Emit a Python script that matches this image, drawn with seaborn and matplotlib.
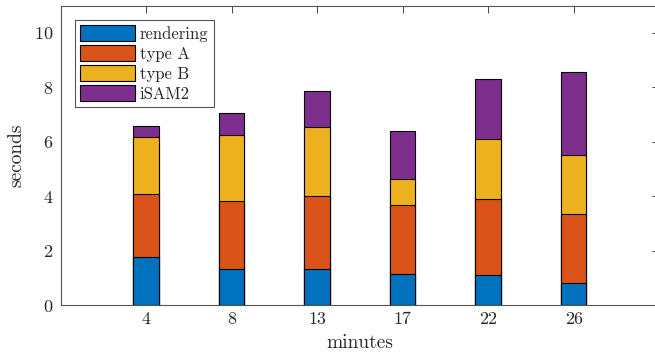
import numpy as np
import pandas as pd
import matplotlib
matplotlib.use('Agg')
import matplotlib.pyplot as plt
from matplotlib.patches import Patch
import seaborn as sns

# data
minutes = ['4', '8', '13', '17', '22', '26']
rendering = [1.75, 1.31, 1.32, 1.13, 1.10, 0.82]
type_a = [2.34, 2.50, 2.67, 2.53, 2.81, 2.51]
type_b = [2.08, 2.44, 2.57, 0.97, 2.21, 2.18]
isam2 = [0.41, 0.79, 1.31, 1.75, 2.19, 3.06]

series_names = ['rendering', 'type A', 'type B', 'iSAM2']
colors = ['#0072BD', '#D95319', '#EDB120', '#7E2F8E']

sns.set_theme(style='white')
plt.rcParams['font.family'] = ['cmr10', 'DejaVu Serif']
plt.rcParams['axes.formatter.use_mathtext'] = True
plt.rcParams['mathtext.fontset'] = 'cm'

df = pd.DataFrame({'minutes': minutes, 'rendering': rendering,
                   'type A': type_a, 'type B': type_b, 'iSAM2': isam2})
cum = df[series_names].cumsum(axis=1)

fig = plt.figure(figsize=(6.55, 3.55), dpi=100)
ax = fig.add_axes([0.0924, 0.1408, 0.914, 0.843])

# draw cumulative totals from top layer down so each segment shows
for name, color in reversed(list(zip(series_names, colors))):
    sns.barplot(x=df['minutes'], y=cum[name], order=minutes, color=color,
                width=0.3, edgecolor='black', linewidth=0.8, saturation=1,
                ax=ax)

ax.set_xlim(-1, 6)
ax.set_ylim(0, 11)
ax.set_yticks([0, 2, 4, 6, 8, 10])
ax.set_xlabel('minutes', fontsize=14, labelpad=5)
ax.set_ylabel('seconds', fontsize=14, labelpad=6)
ax.tick_params(direction='in', length=5, width=0.6, color='#262626',
               labelsize=13, top=True, right=True, pad=5)
for sp in ax.spines.values():
    sp.set_color('#555555')
    sp.set_linewidth(0.8)

handles = [Patch(facecolor=c, edgecolor='black', linewidth=0.8) for c in colors]
leg = ax.legend(handles, series_names, loc='upper left', fontsize=12,
                bbox_to_anchor=(0.024, 0.952), borderaxespad=0,
                handlelength=3.3, handleheight=1.05,
                handletextpad=0.3, labelspacing=0.22, borderpad=0.3,
                frameon=True, fancybox=False, edgecolor='#555555', framealpha=1)
leg.get_frame().set_linewidth(0.8)

fig.savefig('out.png', dpi=100)
